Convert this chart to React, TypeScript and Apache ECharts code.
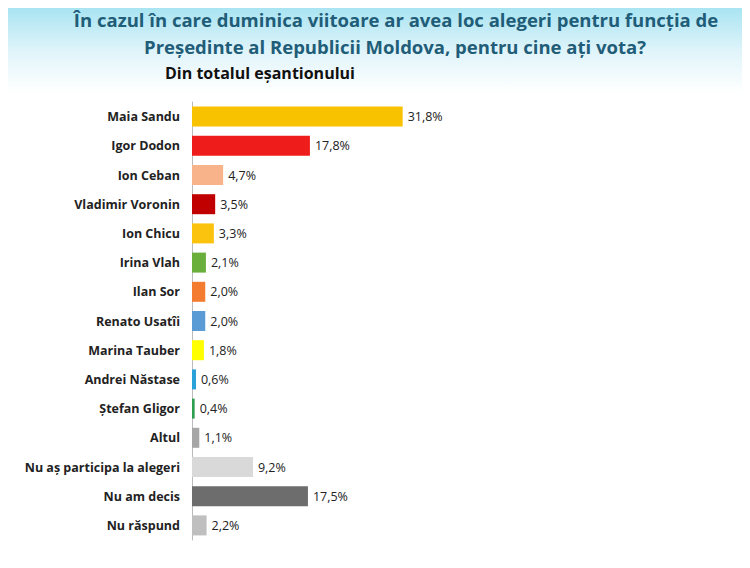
import React, { useEffect, useRef } from "react";
import * as echarts from "echarts";

const categories = ["Maia Sandu","Igor Dodon","Ion Ceban","Vladimir Voronin","Ion Chicu","Irina Vlah","Ilan Sor","Renato Usatîi","Marina Tauber","Andrei Năstase","Ștefan Gligor","Altul","Nu aș participa la alegeri","Nu am decis","Nu răspund"];
const values = [31.8,17.8,4.7,3.5,3.3,2.1,2.0,2.0,1.8,0.6,0.4,1.1,9.2,17.5,2.2];
const colors = ["#f9c200","#ef1c1c","#f9b38a","#c00000","#fcc30e","#6aaf3c","#f47c30","#5b9bd5","#ffff00","#2aa2d9","#2e9e4f","#a6a6a6","#d9d9d9","#6d6d6d","#bfbfbf"];

export default function App() {
  const ref = useRef<HTMLDivElement>(null);
  useEffect(() => {
    const chart = echarts.init(ref.current!, null, { renderer: "svg" });
    chart.setOption({
      animation: false,
      backgroundColor: "#ffffff",
      graphic: [
        { type: "rect", shape: { x: 0, y: 0, width: 750, height: 85 }, z: -10, silent: true,
          style: { fill: new echarts.graphic.LinearGradient(0, 0, 0, 1, [
            { offset: 0, color: "#a9e4f2" }, { offset: 0.5, color: "#dff4fa" }, { offset: 1, color: "#ffffff" }]) } },
        { type: "text", x: 388, y: 2, style: { text: "În cazul în care duminica viitoare ar avea loc alegeri pentru funcția de", font: "bold 18.5px 'Open Sans', sans-serif", fill: "#1f5d78", align: "center" } },
        { type: "text", x: 387, y: 29, style: { text: "Președinte al Republicii Moldova, pentru cine ați vota?", font: "bold 18.5px 'Open Sans', sans-serif", fill: "#1f5d78", align: "center" } },
        { type: "text", x: 157, y: 57, style: { text: "Din totalul eșantionului", font: "bold 16px 'Open Sans', sans-serif", fill: "#111" } },
      ],
      grid: { left: 184, top: 94, height: 438, width: 265 },
      xAxis: { type: "value", min: 0, max: 40, show: false },
      yAxis: {
        type: "category", data: categories, inverse: true,
        axisTick: { show: false },
        axisLine: { lineStyle: { color: "#bbb" } },
        axisLabel: { color: "#222", fontWeight: "bold", fontSize: 12.5, fontFamily: "'Open Sans', sans-serif", margin: 12 },
      },
      series: [{
        type: "bar", barWidth: 20,
        data: values.map((v, i) => ({ value: v, itemStyle: { color: colors[i] } })),
        label: { show: true, position: "right", color: "#222", fontSize: 12.5, fontFamily: "'Open Sans', sans-serif",
          formatter: (p: any) => p.value.toFixed(1).replace(".", ",") + "%" },
      }],
    });
    return () => chart.dispose();
  }, []);
  return <div ref={ref} style={{ width: 734, height: 552 }} />;
}
